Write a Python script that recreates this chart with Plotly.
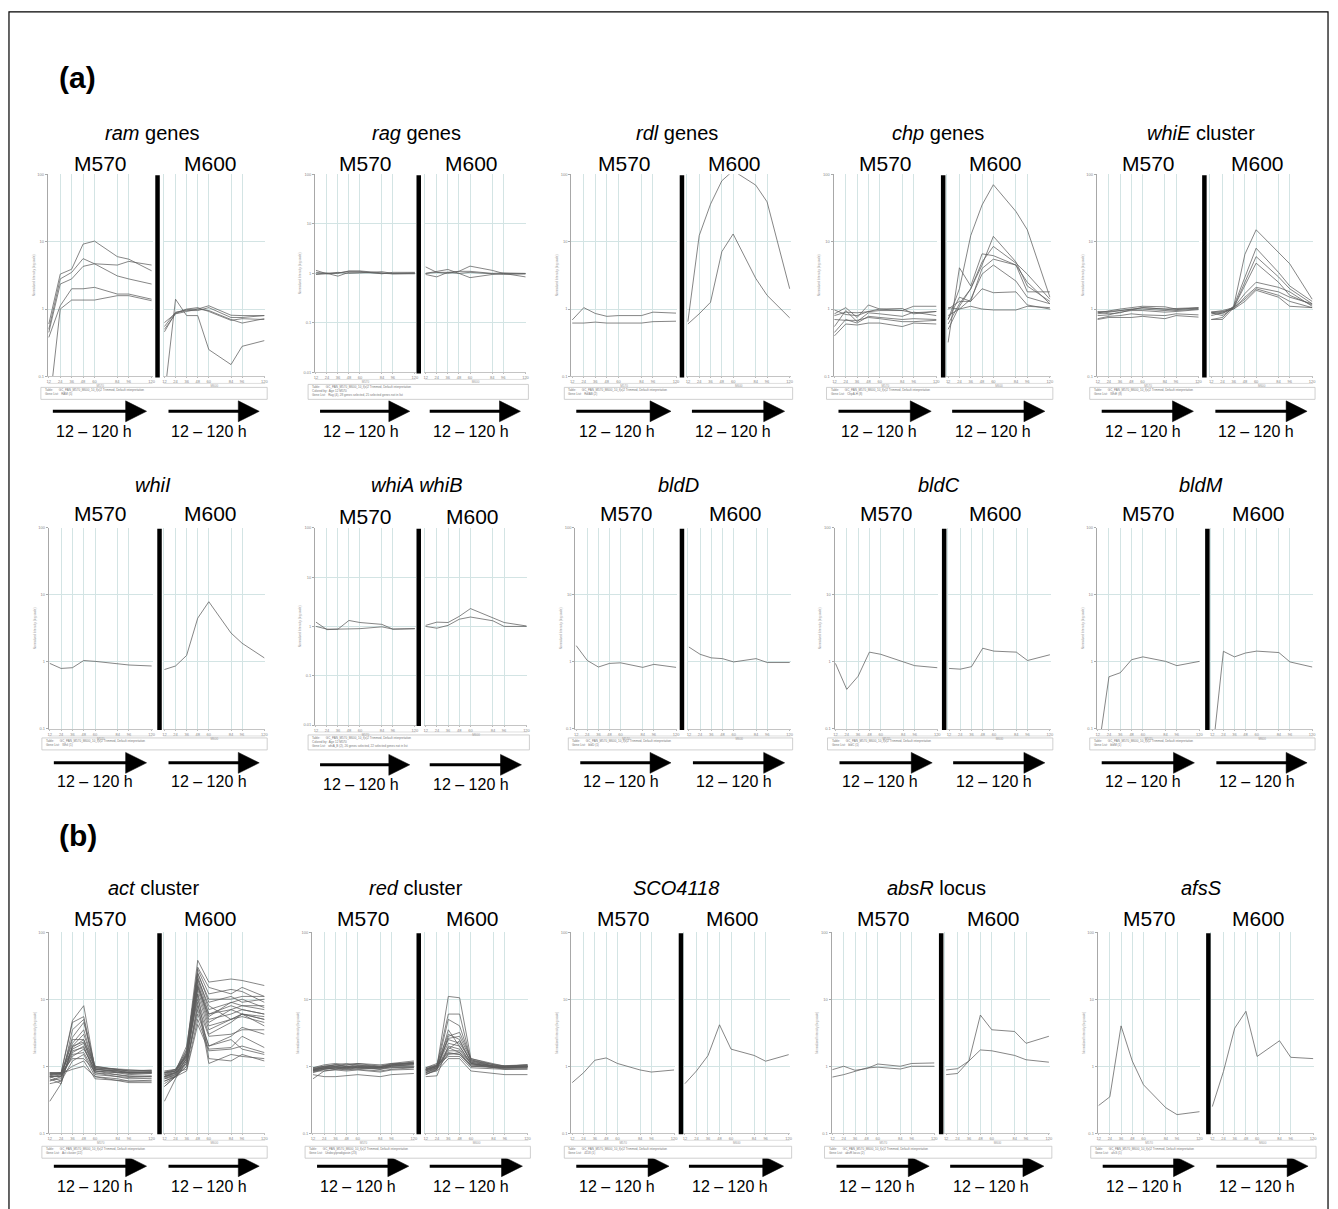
import math
import plotly.graph_objects as go

W, H = 1338, 1209
HOURS = [12, 24, 36, 48, 60, 84, 96, 120]

# ---------------- data (normalized intensity, log scale) ----------------
RAM_M570 = [
    [0.6, 3.3, 3.9, 9.2, 10.2, 6.0, 5.5, 3.7],
    [0.5, 2.8, 3.5, 5.6, 4.7, 4.5, 5.1, 4.5],
    [0.45, 2.35, 2.8, 4.3, 4.7, 3.1, 2.8, 2.35],
    [0.38, 1.12, 2.0, 2.0, 2.1, 1.67, 1.67, 1.4],
    [0.03, 1.0, 1.36, 1.36, 1.36, 1.58, 1.58, 1.33],
]
RAM_M600 = [
    [0.05, 1.4, 0.8, 0.8, 0.25, 0.15, 0.28, 0.34],
    [0.63, 0.86, 0.98, 1.0, 1.12, 0.81, 0.8, 0.8],
    [0.55, 0.9, 0.95, 0.95, 1.05, 0.75, 0.75, 0.8],
    [0.5, 0.85, 0.92, 1.0, 0.95, 0.7, 0.62, 0.72],
    [0.46, 0.88, 1.0, 1.05, 0.92, 0.68, 0.72, 0.7],
]
RAG_M570 = [
    [1.15, 0.98, 1.02, 1.1, 1.1, 0.98, 1.05, 1.05],
    [1.05, 1.0, 0.88, 1.05, 1.05, 1.0, 0.98, 1.0],
    [0.95, 0.98, 1.05, 1.0, 1.02, 1.08, 1.0, 1.02],
    [0.97, 1.02, 1.0, 1.12, 1.12, 1.02, 0.98, 0.98],
]
RAG_M600 = [
    [1.35, 1.05, 1.0, 1.1, 1.4, 1.15, 1.0, 0.98],
    [1.0, 1.1, 1.2, 1.0, 0.82, 0.95, 1.0, 0.85],
    [0.95, 0.85, 1.05, 1.0, 1.05, 1.0, 0.95, 0.98],
    [1.0, 1.05, 1.05, 1.1, 1.1, 1.0, 1.02, 1.0],
]
RDL_M570 = [
    [0.69, 1.05, 0.86, 0.78, 0.8, 0.8, 0.9, 0.87],
    [0.62, 0.62, 0.64, 0.62, 0.62, 0.62, 0.65, 0.66],
]
RDL_M600 = [
    [0.65, 12.3, 36, 80, 113, 69, 39, 2.0],
    [0.6, 0.85, 1.26, 7.1, 13, 2.85, 1.6, 0.74],
]
CHP_M570 = [
    [0.97, 0.83, 0.8, 0.92, 1.0, 1.02, 0.85, 0.92],
    [0.85, 1.05, 0.75, 1.15, 1.0, 0.95, 1.1, 1.1],
    [0.8, 0.9, 0.88, 0.92, 0.95, 0.95, 0.88, 0.92],
    [0.55, 0.95, 0.65, 0.88, 0.85, 0.78, 0.9, 0.8],
    [0.45, 0.7, 0.62, 0.78, 0.75, 0.7, 0.72, 0.7],
    [0.4, 0.6, 0.58, 0.62, 0.62, 0.55, 0.62, 0.6],
    [0.7, 0.68, 0.68, 0.75, 0.72, 0.65, 0.65, 0.68],
]
CHP_M600 = [
    [0.7, 2.0, 12.3, 35, 70, 28, 15, 1.5],
    [0.32, 4.1, 2.2, 6.6, 6.2, 4.5, 2.5, 1.2],
    [0.6, 1.2, 2.0, 4.5, 12, 5.0, 2.2, 1.3],
    [0.5, 1.1, 2.0, 5.0, 8.5, 4.8, 3.3, 1.4],
    [0.7, 1.5, 1.3, 4.0, 5.5, 4.5, 1.8, 1.8],
    [0.8, 1.0, 1.4, 3.3, 4.5, 2.6, 1.5, 1.2],
    [1.0, 1.3, 1.3, 2.0, 1.75, 1.8, 1.15, 1.0],
    [1.05, 1.0, 1.1, 1.0, 0.97, 0.97, 1.1, 1.05],
]
WHIE_M570 = [
    [0.88, 0.95, 1.0, 1.05, 1.1, 1.08, 1.0, 1.02],
    [0.85, 0.9, 0.95, 1.0, 1.0, 0.95, 0.98, 1.05],
    [0.9, 0.85, 0.88, 0.98, 1.05, 1.0, 0.95, 1.0],
    [0.8, 0.82, 0.9, 0.95, 0.95, 0.9, 0.92, 0.98],
    [0.7, 0.75, 0.75, 0.75, 0.78, 0.72, 0.8, 0.76],
    [0.72, 0.78, 0.8, 0.85, 0.82, 0.8, 0.85, 0.82],
    [0.92, 0.92, 0.95, 0.98, 1.05, 1.0, 1.02, 1.05],
]
WHIE_M600 = [
    [0.9, 0.85, 1.1, 6.5, 15, 7.0, 4.7, 1.4],
    [0.7, 0.75, 1.1, 3.0, 8.0, 3.5, 2.2, 1.3],
    [0.85, 0.9, 1.05, 2.5, 6.0, 3.0, 2.0, 1.2],
    [0.9, 0.95, 1.05, 2.2, 4.8, 2.5, 1.6, 1.15],
    [0.88, 0.8, 1.05, 1.7, 2.5, 2.1, 1.8, 1.1],
    [0.7, 0.7, 1.05, 1.4, 2.0, 1.6, 1.3, 1.05],
    [0.9, 0.92, 1.0, 1.3, 1.9, 1.5, 1.1, 1.05],
    [0.8, 0.88, 1.0, 1.5, 2.1, 1.8, 1.5, 1.2],
]
WHII_M570 = [[0.95, 0.8, 0.82, 1.05, 1.02, 0.95, 0.9, 0.87]]
WHII_M600 = [[0.77, 0.87, 1.25, 4.5, 7.9, 2.7, 1.9, 1.15]]
WHIAB_M570 = [
    [1.22, 0.86, 0.88, 1.32, 1.2, 1.1, 0.88, 0.9],
    [1.0, 0.88, 0.88, 0.9, 0.9, 0.98, 0.88, 0.9],
]
WHIAB_M600 = [
    [1.05, 1.22, 1.2, 1.6, 2.3, 1.5, 1.2, 1.02],
    [1.0, 0.92, 1.05, 1.4, 1.55, 1.3, 1.0, 1.0],
]
BLDD_M570 = [[1.75, 1.05, 0.84, 0.95, 0.97, 0.83, 0.92, 0.83]]
BLDD_M600 = [[1.67, 1.3, 1.15, 1.12, 1.0, 1.12, 0.98, 0.98]]
BLDC_M570 = [[0.95, 0.39, 0.61, 1.4, 1.3, 1.0, 0.88, 0.82]]
BLDC_M600 = [[0.8, 0.78, 0.85, 1.6, 1.45, 1.4, 1.05, 1.28]]
BLDM_M570 = [[0.04, 0.6, 0.69, 1.08, 1.19, 1.02, 0.88, 1.02]]
BLDM_M600 = [[0.04, 1.44, 1.19, 1.36, 1.45, 1.38, 1.0, 0.84]]
ACT_M570 = [
    [0.8, 0.8, 4.8, 8.0, 0.9, 0.85, 0.8, 0.82],
    [0.75, 0.78, 4.5, 5.5, 0.95, 0.9, 0.85, 0.85],
    [0.7, 0.6, 3.5, 5.0, 0.85, 0.8, 0.8, 0.8],
    [0.78, 0.75, 2.7, 4.5, 1.0, 0.88, 0.85, 0.86],
    [0.72, 0.7, 2.5, 2.5, 0.9, 0.82, 0.78, 0.8],
    [0.65, 0.55, 2.0, 2.3, 0.8, 0.75, 0.72, 0.7],
    [0.8, 0.8, 1.8, 2.2, 0.95, 0.9, 0.88, 0.85],
    [0.6, 0.7, 1.6, 2.0, 0.75, 0.7, 0.68, 0.7],
    [0.7, 0.72, 1.4, 1.8, 0.9, 0.85, 0.8, 0.8],
    [0.55, 0.6, 1.2, 1.5, 0.7, 0.65, 0.6, 0.62],
    [0.75, 0.8, 1.3, 1.3, 0.85, 0.8, 0.75, 0.78],
    [0.68, 0.75, 1.0, 1.2, 0.65, 0.62, 0.6, 0.6],
    [0.72, 0.78, 0.9, 1.0, 0.7, 0.6, 0.57, 0.57],
    [0.3, 0.55, 2.0, 3.0, 0.95, 0.85, 0.82, 0.83],
    [0.8, 0.78, 1.9, 2.5, 1.0, 0.9, 0.85, 0.88],
    [0.62, 0.65, 1.5, 1.6, 0.8, 0.7, 0.65, 0.66],
    [0.77, 0.8, 2.2, 3.5, 0.92, 0.82, 0.8, 0.8],
    [0.7, 0.7, 1.7, 1.9, 0.85, 0.75, 0.7, 0.72],
]
ACT_M600 = [
    [0.8, 0.85, 1.8, 38, 18, 20, 19, 16],
    [0.75, 0.8, 1.6, 30, 15, 12, 15, 11],
    [0.7, 0.75, 1.5, 25, 9, 11, 9, 10],
    [0.85, 0.9, 1.4, 22, 7, 9, 10, 7.5],
    [0.6, 0.7, 1.3, 20, 6, 8, 7, 6],
    [0.7, 0.8, 1.5, 18, 5, 6, 7, 6],
    [0.5, 0.7, 1.2, 16, 4.5, 7, 6, 5.5],
    [0.8, 0.85, 1.4, 15, 5.5, 9, 8, 8],
    [0.65, 0.75, 1.3, 14, 4, 5, 6, 5],
    [0.3, 0.65, 1.2, 12, 3.5, 5, 5.5, 4.5],
    [0.75, 0.85, 1.6, 10, 3, 4.5, 6, 4],
    [0.6, 0.7, 1.0, 8, 2.8, 3, 3.5, 3.5],
    [0.7, 0.8, 1.1, 6, 2, 2.8, 3.8, 3],
    [0.72, 0.82, 0.9, 5, 1.8, 1.9, 2.8, 1.9],
    [0.5, 0.7, 0.85, 4.2, 1.7, 1.8, 2.0, 1.6],
    [0.8, 0.9, 1.7, 28, 12, 14, 13, 9],
    [0.7, 0.78, 1.3, 12, 1.3, 1.2, 1.5, 1.2],
    [0.65, 0.7, 1.0, 9, 1.1, 1.5, 1.4, 1.3],
    [0.78, 0.85, 2.0, 24, 10, 10, 11, 11],
    [0.68, 0.72, 1.4, 16, 6, 7, 8, 7],
    [0.82, 0.88, 1.5, 20, 8, 5, 6, 5],
    [0.55, 0.7, 1.1, 7, 2, 2.5, 1.8, 1.5],
]
RED_M570 = [
    [0.9, 1.0, 1.05, 1.0, 1.05, 1.0, 1.1, 1.2],
    [0.85, 0.95, 1.0, 0.95, 1.0, 0.95, 1.05, 1.15],
    [0.95, 1.05, 1.1, 1.05, 1.1, 1.05, 1.1, 1.1],
    [0.8, 0.9, 0.95, 0.9, 0.95, 0.9, 1.0, 1.05],
    [0.88, 0.95, 0.9, 1.0, 0.95, 1.0, 0.98, 1.0],
    [0.9, 0.98, 1.05, 1.1, 1.05, 0.95, 1.05, 1.1],
    [0.92, 1.0, 0.98, 0.95, 1.0, 0.9, 0.95, 0.98],
    [0.75, 0.7, 0.7, 0.72, 0.75, 0.7, 0.75, 0.78],
    [0.65, 0.85, 0.9, 0.92, 0.9, 0.85, 0.9, 0.95],
    [0.85, 0.9, 0.95, 0.98, 0.95, 0.92, 1.0, 1.08],
    [0.9, 0.95, 1.0, 1.05, 1.1, 1.0, 1.05, 1.12],
    [0.82, 0.92, 0.92, 0.88, 0.92, 0.95, 1.02, 1.05],
    [0.95, 1.0, 1.05, 0.98, 1.02, 0.98, 1.08, 1.15],
    [0.88, 0.95, 0.95, 0.92, 0.97, 0.95, 0.95, 0.96],
    [0.87, 0.93, 0.98, 0.96, 0.98, 0.97, 1.03, 1.1],
    [0.85, 0.85, 0.88, 0.85, 0.88, 0.82, 0.88, 0.9],
]
RED_M600 = [
    [0.85, 1.0, 11, 10.5, 1.3, 1.1, 1.0, 1.05],
    [0.9, 1.05, 6, 6, 1.2, 1.05, 1.0, 1.0],
    [0.8, 0.95, 5, 4, 1.25, 1.0, 0.95, 1.0],
    [0.95, 1.1, 3, 2.5, 1.15, 1.0, 1.0, 1.05],
    [0.75, 0.9, 2.8, 3.2, 1.3, 1.05, 0.95, 1.0],
    [0.88, 1.0, 2.5, 2.2, 1.2, 1.0, 0.98, 0.98],
    [0.9, 1.0, 2.2, 2.0, 1.1, 0.95, 0.95, 0.95],
    [0.7, 0.72, 2.0, 1.8, 1.1, 0.95, 0.9, 0.92],
    [0.85, 0.95, 1.8, 2.4, 1.15, 1.02, 1.0, 1.02],
    [0.92, 1.02, 1.6, 1.5, 1.0, 0.98, 0.95, 1.0],
    [0.8, 0.9, 1.5, 1.6, 1.05, 0.95, 0.92, 0.95],
    [0.95, 1.05, 1.4, 1.4, 0.95, 0.92, 0.9, 0.9],
    [0.85, 0.95, 1.7, 1.7, 1.1, 1.0, 0.98, 0.98],
    [0.78, 0.85, 1.3, 1.3, 0.85, 0.78, 0.75, 0.75],
    [0.9, 1.0, 2.6, 2.8, 1.25, 1.05, 1.02, 1.05],
    [0.88, 0.98, 1.9, 1.6, 1.0, 0.96, 0.96, 0.97],
    [0.82, 0.92, 1.55, 1.5, 1.05, 1.0, 0.97, 1.0],
    [0.75, 0.88, 3.5, 2.0, 1.1, 1.0, 0.98, 1.0],
]
SCO4118_M570 = [[0.57, 0.8, 1.23, 1.33, 1.1, 0.88, 0.82, 0.88]]
SCO4118_M600 = [[0.55, 0.85, 1.44, 4.15, 1.8, 1.45, 1.19, 1.49]]
ABSR_M570 = [
    [0.89, 1.0, 0.87, 0.92, 1.08, 1.0, 1.1, 1.12],
    [0.69, 0.75, 0.84, 0.94, 0.97, 0.91, 1.0, 1.0],
]
ABSR_M600 = [
    [0.88, 0.92, 1.2, 5.8, 3.5, 3.3, 2.2, 2.8],
    [0.75, 0.78, 1.2, 1.75, 1.7, 1.45, 1.25, 1.15],
]
AFSS_M570 = [[0.26, 0.35, 4.0, 1.2, 0.53, 0.24, 0.19, 0.21]]
AFSS_M600 = [[0.25, 0.84, 3.7, 6.6, 1.4, 2.4, 1.36, 1.3]]

STRAINS = ["M570", "M600"]
TIME_LABEL = "12 \u2013 120 h"

# title, M570 data, M600 data, y-range (low, high), gene-list caption
PANELS = [
    ("<i>ram</i> genes", RAM_M570, RAM_M600, (0.1, 100), ["Gene List:   RAM (5)"]),
    ("<i>rag</i> genes", RAG_M570, RAG_M600, (0.01, 100), ["Colored by:  Age 12 M570", "Gene List:   Rag (4), 28 genes selected, 25 selected genes not in list"]),
    ("<i>rdl</i> genes", RDL_M570, RDL_M600, (0.1, 100), ["Gene List:   RdlAB (2)"]),
    ("<i>chp</i> genes", CHP_M570, CHP_M600, (0.1, 100), ["Gene List:   ChpA-H (8)"]),
    ("<i>whiE</i> cluster", WHIE_M570, WHIE_M600, (0.1, 100), ["Gene List:   WhiE (8)"]),
    ("<i>whiI</i>", WHII_M570, WHII_M600, (0.1, 100), ["Gene List:   WhiI (1)"]),
    ("<i>whiA whiB</i>", WHIAB_M570, WHIAB_M600, (0.01, 100), ["Colored by:  Age 12 M570", "Gene List:   whiA_B (2), 26 genes selected, 22 selected genes not in list"]),
    ("<i>bldD</i>", BLDD_M570, BLDD_M600, (0.1, 100), ["Gene List:   bldD (1)"]),
    ("<i>bldC</i>", BLDC_M570, BLDC_M600, (0.1, 100), ["Gene List:   bldC (1)"]),
    ("<i>bldM</i>", BLDM_M570, BLDM_M600, (0.1, 100), ["Gene List:   bldM (1)"]),
    ("<i>act</i> cluster", ACT_M570, ACT_M600, (0.1, 100), ["Gene List:   Act cluster (22)"]),
    ("<i>red</i> cluster", RED_M570, RED_M600, (0.1, 100), ["Gene List:   Undecylprodigiosin (23)"]),
    ("<i>SCO4118</i>", SCO4118_M570, SCO4118_M600, (0.1, 100), ["Gene List:   4118 (1)"]),
    ("<i>absR</i> locus", ABSR_M570, ABSR_M600, (0.1, 100), ["Gene List:   absR locus (2)"]),
    ("<i>afsS</i>", AFSS_M570, AFSS_M600, (0.1, 100), ["Gene List:   afsS (1)"]),
]
TABLE_LINE = "Table:       GC_PAN_M570_M600_10_f(x)2 Trimmed, Default interpretation"

# ---------------- layout geometry (pixels) ----------------
# (M570 left, M570 right, divider x, M600 left, M600 right)
GEOM = [
    [(47, 152, 157, 163, 265), (315, 416, 419, 425, 527), (572, 678, 683, 688, 792),
     (835, 939, 945, 949, 1053), (1099, 1202, 1207, 1213, 1316)],
    [(48, 152, 159, 163, 265), (315, 416, 419, 425, 528), (576, 678, 683, 689, 792),
     (836, 940, 946, 950, 1053), (1099, 1203, 1210, 1214, 1316)],
    [(48, 152, 159, 163, 265), (312, 415, 419, 425, 529), (572, 676, 682, 685, 791),
     (833, 937, 943, 947, 1052), (1100, 1203, 1211, 1214, 1317)],
]
ROWS = [
    dict(title=131, label=161, top=172, bottom=375, leg=386, arrow=410, text=430),
    dict(title=484, label=513, top=527, bottom=729, leg=738, arrow=763, text=782),
    dict(title=889, label=919, top=933, bottom=1135, leg=1148, arrow=1168, text=1188),
]

FONT = "Liberation Sans, Arial, Helvetica, sans-serif"
GRID = "#d3e4e4"
LINE = "#5e5e5e"


def px(x):
    return x / W


def py(y):
    return 1 - y / H


fig = go.Figure()
shapes, annotations = [], []
layout_axes = {}


def ann(x, y, text, size, bold=False, xanchor="center", yanchor="middle", color="black", angle=0):
    annotations.append(dict(
        x=px(x), y=py(y), xref="paper", yref="paper", text=("<b>%s</b>" % text) if bold else text,
        showarrow=False, xanchor=xanchor, yanchor=yanchor, textangle=angle,
        font=dict(family=FONT, size=size, color=color)))


axis_n = 0
for r, row in enumerate(ROWS):
    for c in range(5):
        title, d570, d600, (ylo, yhi), gene_caption = PANELS[r * 5 + c]
        g = GEOM[r][c]
        four_dec = ylo < 0.05
        top = row["top"]
        bottom = row["bottom"] - (4 if four_dec else 0)
        ticks = [v for v in [0.01, 0.1, 1, 10, 100] if ylo <= v <= yhi]
        ticktext = ["0.01" if v == 0.01 else ("0.1" if v == 0.1 else str(int(v))) for v in ticks]
        label_shift = 3 if four_dec and r == 1 else 0

        ann((g[0] + g[4]) / 2 - 4, row["title"], title, 20)
        for k, (series, xl, xr) in enumerate([(d570, g[0], g[1]), (d600, g[3], g[4])]):
            axis_n += 1
            xname = "xaxis" if axis_n == 1 else "xaxis%d" % axis_n
            yname = "yaxis" if axis_n == 1 else "yaxis%d" % axis_n
            xref = "x" if axis_n == 1 else "x%d" % axis_n
            yref = "y" if axis_n == 1 else "y%d" % axis_n
            layout_axes[xname] = dict(
                domain=[px(xl), px(xr)], anchor=yref, range=[11, 121],
                tickmode="array", tickvals=HOURS, ticktext=[str(h) for h in HOURS],
                tickfont=dict(size=4, color="#888", family=FONT),
                showgrid=True, gridcolor=GRID, gridwidth=1, zeroline=False,
                showline=True, linecolor="#c4c4c4", linewidth=1,
                ticks="outside", ticklen=1, tickcolor="#bbb",
                title=dict(text=STRAINS[k], font=dict(size=3, color="#999", family=FONT), standoff=1),
                fixedrange=True)
            layout_axes[yname] = dict(
                domain=[py(bottom), py(top)], anchor=xref, type="log",
                range=[math.log10(ylo), math.log10(yhi)],
                tickmode="array", tickvals=ticks, ticktext=ticktext,
                tickfont=dict(size=4, color="#888", family=FONT),
                showticklabels=(k == 0),
                showgrid=True, gridcolor=GRID, gridwidth=1, zeroline=False,
                showline=True, linecolor="#a8a8a8" if k == 0 else GRID, linewidth=1,
                ticks="outside" if k == 0 else "", ticklen=2, tickcolor="#aaa",
                title=dict(text="Normalized Intensity (log scale)" if k == 0 else "",
                           font=dict(size=3, color="#999", family=FONT), standoff=2),
                fixedrange=True)
            for vals in series:
                fig.add_trace(go.Scatter(
                    x=HOURS, y=vals, mode="lines", xaxis=xref, yaxis=yref,
                    line=dict(color=LINE, width=0.75), hoverinfo="skip", showlegend=False))
            # strain label
            ann((xl + xr) / 2 - (4 if k == 1 else 0), row["label"] + label_shift, STRAINS[k], 21)
            # arrow
            x0, tip = xl + 5, xr - 6
            hs = tip - 21
            ya = row["arrow"] + (2 if four_dec and r == 1 else 0)
            shapes.append(dict(type="line", xref="paper", yref="paper", x0=px(x0), x1=px(hs + 2),
                               y0=py(ya), y1=py(ya), line=dict(color="black", width=3)))
            shapes.append(dict(type="path", xref="paper", yref="paper",
                               path="M %f,%f L %f,%f L %f,%f Z" % (px(hs), py(ya - 10.5), px(tip), py(ya),
                                                                  px(hs), py(ya + 10.5)),
                               fillcolor="black", line=dict(color="black", width=0.5)))
            ann(xl + 46, row["text"] + (3 if four_dec and r == 1 else 0), TIME_LABEL, 16)
            # bracket under x axis
            shapes.append(dict(type="line", xref="paper", yref="paper", x0=px(xl), x1=px(xr),
                               y0=py(bottom + 7), y1=py(bottom + 7), line=dict(color="#c8c8c8", width=0.6)))
        # thick divider
        shapes.append(dict(type="line", xref="paper", yref="paper", x0=px(g[2]), x1=px(g[2]),
                           y0=py(top + 1), y1=py(bottom + 1), line=dict(color="black", width=4.5)))
        # legend / info box
        lines = [TABLE_LINE] + gene_caption
        lt = row["leg"] - (3 if len(lines) > 2 else 0)
        lb = row["leg"] + 12
        shapes.append(dict(type="rect", xref="paper", yref="paper", x0=px(g[0] - 7), x1=px(g[4] + 2),
                           y0=py(lt), y1=py(lb), line=dict(color="#c4c4c4", width=0.8), fillcolor="white"))
        for i, t in enumerate(lines):
            ann(g[0] - 5, lt + 3 + i * 4, t, 3, xanchor="left", color="#777")

# panel letters
ann(77, 75, "(a)", 30, bold=True)
ann(77, 836, "(b)", 30, bold=True)

# outer frame
shapes.append(dict(type="path", xref="paper", yref="paper",
                   path="M %f,%f L %f,%f L %f,%f L %f,%f" % (px(8), py(1215), px(8), py(9),
                                                           px(1331), py(9), px(1331), py(1215)),
                   line=dict(color="black", width=1.2)))

fig.update_layout(
    width=W, height=H, margin=dict(l=0, r=0, t=0, b=0),
    paper_bgcolor="white", plot_bgcolor="white", showlegend=False,
    shapes=shapes, annotations=annotations, **layout_axes)

fig.write_html("out.html")
